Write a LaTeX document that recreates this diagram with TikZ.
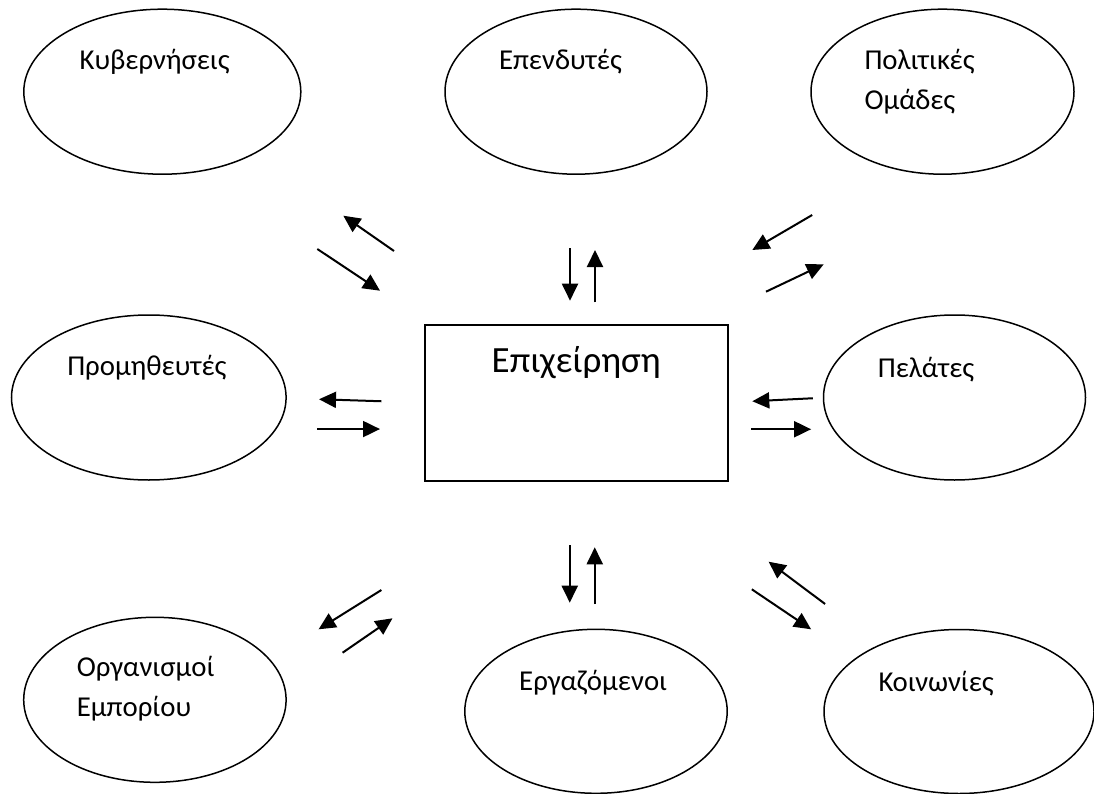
\documentclass[tikz,border=0pt]{standalone}
\usepackage{fontspec}
\setmainfont{Carlito}
\usetikzlibrary{shapes.geometric,arrows.meta}
\begin{document}
\begin{tikzpicture}[x=1pt,y=-1pt,%
    every node/.style={inner sep=0pt,outer sep=0pt},
    grp/.style={ellipse,draw=black,line width=1.5pt,minimum height=165pt},
    lbl/.style={anchor=base west,align=left,font=\fontsize{28.8}{40}\selectfont},
    firmbox/.style={rectangle,draw=black,line width=2pt,minimum
      width=302.5pt,minimum height=155.5pt},
    arr/.style={line width=2pt,-{Triangle[length=17pt,width=16pt]}}]%
  \useasboundingbox (0,0) rectangle (1094,794);
  \node[firmbox] (firm) at (576.25,402.75) {}; \node[anchor=base,font=\fontsize{37}{46}\selectfont]
  (firmlbl) at (576.25,372.7) {Επιχείρηση};
  \node[grp,minimum width=277pt] (kyv) at (162.3,91.7) {}; \node[grp,minimum
  width=262pt] (epen) at (576,91.7) {}; \node[grp,minimum width=263pt] (pol)
  at (942.5,91.7) {}; \node[grp,minimum width=274.6pt] (prom) at
  (148.8,397.5) {}; \node[grp,minimum width=262pt] (pel) at (954.5,397.5)
  {}; \node[grp,minimum width=262.4pt] (org) at (154.9,699.8) {};
  \node[grp,minimum width=262.4pt,minimum height=164pt] (erg) at
  (596,711.3) {}; \node[grp,minimum width=270pt,minimum height=164pt]
  (koin) at (959,711.5) {};
  \node[lbl] (kyvlbl) at (79.6,70) {Κυβερνήσεις}; \node[lbl] (epenlbl) at
  (499,70) {Επενδυτές}; \node[lbl] (pollbl) at (864.5,110)
  {Πολιτικές\\Ομάδες}; \node[lbl] (promlbl) at (67.3,375) {Προμηθευτές};
  \node[lbl] (pellbl) at (877.8,377.3) {Πελάτες}; \node[lbl] (orglbl) at
  (76.8,716.7) {Οργανισμοί\\Εμπορίου}; \node[lbl] (erglbl) at (519.2,690)
  {Εργαζόμενοι}; \node[lbl] (koinlbl) at (878.5,691.7) {Κοινωνίες};
  \draw[arr] ([shift={(-31,-74)}]firm.north west) -- ([shift={(-81.7,-109.3)}]firm.north west);
  \draw[arr] ([shift={(-107.7,-76)}]firm.north west) -- ([shift={(-45,-34.3)}]firm.north west);
  \draw[arr] ([shift={(-6.25,-76.7)}]firm.north) -- ([shift={(-6.25,-24.3)}]firm.north);
  \draw[arr] ([shift={(18.75,-22.7)}]firm.north) -- ([shift={(18.75,-75)}]firm.north);
  \draw[arr] ([shift={(84.7,-110)}]firm.north east) -- ([shift={(24.8,-75)}]firm.north east);
  \draw[arr] ([shift={(38.5,-33.3)}]firm.north east) -- ([shift={(96.2,-60.7)}]firm.north east);
  \draw[arr] ([shift={(-43.7,-1.5)}]firm.west) -- ([shift={(-106,-3.5)}]firm.west);
  \draw[arr] ([shift={(-107.7,26.3)}]firm.west) -- ([shift={(-45,26.3)}]firm.west);
  \draw[arr] ([shift={(85.4,-4.5)}]firm.east) -- ([shift={(24.8,-1.5)}]firm.east);
  \draw[arr] ([shift={(23.5,26.5)}]firm.east) -- ([shift={(83.6,26.5)}]firm.east);
  \draw[arr] ([shift={(-43.6,109.5)}]firm.south west) -- ([shift={(-106.4,148.8)}]firm.south west);
  \draw[arr] ([shift={(-82.4,172.2)}]firm.south west) -- ([shift={(-32.5,137.8)}]firm.south west);
  \draw[arr] ([shift={(-6.5,64.5)}]firm.south) -- ([shift={(-6.5,122.2)}]firm.south);
  \draw[arr] ([shift={(18.5,123.5)}]firm.south) -- ([shift={(18.5,66.8)}]firm.south);
  \draw[arr] ([shift={(97.6,123.5)}]firm.south east) -- ([shift={(41.1,81.2)}]firm.south east);
  \draw[arr] ([shift={(24.3,108.8)}]firm.south east) -- ([shift={(83.6,148.8)}]firm.south east);
\end{tikzpicture}
\end{document}
